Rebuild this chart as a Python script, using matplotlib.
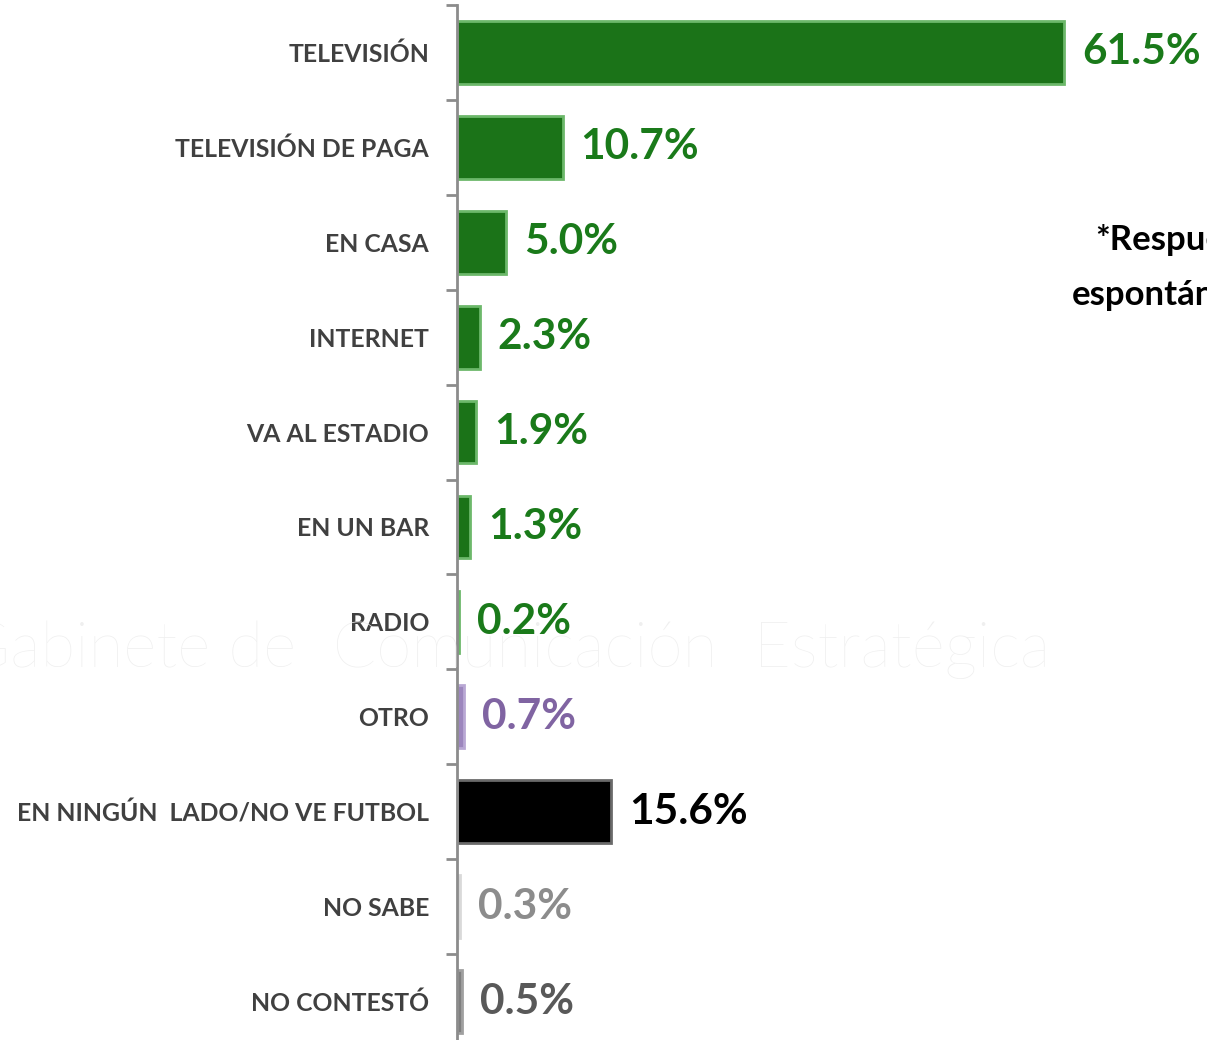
import matplotlib.pyplot as plt

CATEGORIES = [
    'TELEVISIÓN', 'TELEVISIÓN DE PAGA', 'EN CASA', 'INTERNET', 'VA AL ESTADIO',
    'EN UN BAR', 'RADIO', 'OTRO', 'EN NINGÚN  LADO/NO VE FUTBOL', 'NO SABE', 'NO CONTESTÓ'
]
VALUES = [61.5, 10.7, 5.0, 2.3, 1.9, 1.3, 0.2, 0.7, 15.6, 0.3, 0.5]
BAR_COLORS = ['#1b7318'] * 7 + ['#9c86bd', '#000000', '#bfbfbf', '#7f7f7f']
EDGE_COLORS = ['#6cb86a'] * 7 + ['#b9a8d4', '#6a6a6a', '#d9d9d9', '#a0a0a0']
LABEL_COLORS = ['#1a7a1a'] * 7 + ['#8064a2', '#000000', '#8c8c8c', '#595959']

plt.rcParams['font.family'] = ['Lato', 'DejaVu Sans']

fig = plt.figure(figsize=(12.07, 10.4), dpi=100)

# faint watermark
fig.text(0.42, 0.375, 'Gabinete de  Comunicación  Estratégica', fontsize=46,
         color='#efefef', ha='center', va='center', fontweight='light', zorder=0)

ax = fig.add_axes([457 / 1207, 1 - 5 / 1040 - 1044 / 1040, 750 / 1207, 1044 / 1040])
ax.patch.set_alpha(0)

n = len(CATEGORIES)
pos = list(range(n))
ax.barh(pos, VALUES, height=0.66, color=BAR_COLORS, edgecolor=EDGE_COLORS, linewidth=2)

for i, v in enumerate(VALUES):
    ax.annotate(f'{v:.1f}%', (v, i), xytext=(13, 0), textcoords='offset points',
                va='center', ha='left', fontsize=30.5, fontweight='bold', color=LABEL_COLORS[i])

ax.set_xlim(0, 76)
ax.set_ylim(n - 0.5, -0.5)
ax.set_yticks(pos)
ax.set_yticklabels(CATEGORIES, fontsize=17.8, fontweight='bold', color='#404040')
ax.tick_params(axis='y', which='major', length=0, pad=20)
ax.set_yticks([i - 0.5 for i in range(n + 1)], minor=True)
ax.tick_params(axis='y', which='minor', length=8, width=2, color='#8c8c8c')
ax.set_xticks([])
for s in ['top', 'right', 'bottom']:
    ax.spines[s].set_visible(False)
ax.spines['left'].set_color('#8c8c8c')
ax.spines['left'].set_linewidth(2)

fig.text(1095 / 1207, 1 - 240 / 1040, '*Respuesta', fontsize=25, fontweight='bold',
         color='#000000', ha='left', va='center')
fig.text(1072 / 1207, 1 - 295 / 1040, 'espontánea', fontsize=25, fontweight='bold',
         color='#000000', ha='left', va='center')

fig.savefig('out.png', dpi=100)
